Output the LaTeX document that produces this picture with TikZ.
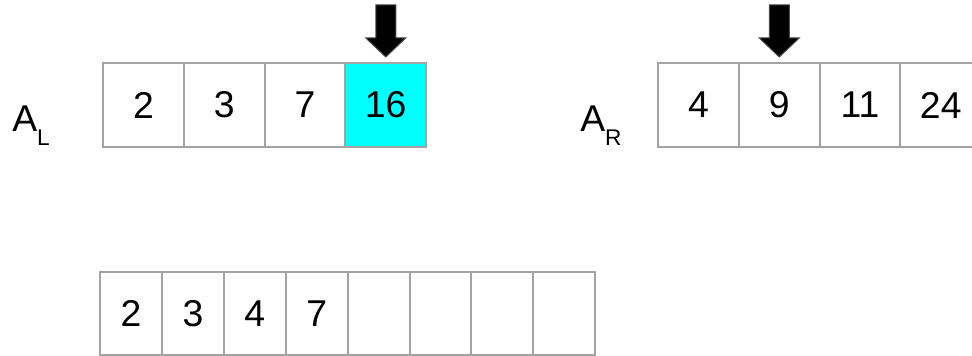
\documentclass[tikz,border=0pt]{standalone}
\usepackage{fontspec}
\setmainfont{Liberation Sans}

\definecolor{cellgray}{HTML}{A3A3A3}
\definecolor{hitcyan}{HTML}{00FFFF}

\tikzset{
  cell/.style={draw=cellgray, line width=1.5pt, inner sep=0pt,
    minimum width=60.56pt, minimum height=63pt,
    font=\fontsize{28}{30}\selectfont},
  outcell/.style={cell, minimum width=46.4pt, minimum height=62.25pt},
  hit/.style={fill=hitcyan},
  pointer/.style={fill=black, draw=black!70, line width=0.75pt},
  arrlabel/.style={anchor=base west, inner sep=0pt,
    font=\fontsize{28}{30}\selectfont},
}

% array name with a lowered subscript letter
\newcommand{\arrname}[1]{A\raisebox{-10pt}{\fontsize{17}{18}\selectfont #1}}

\begin{document}
\begin{tikzpicture}[x=0.75pt, y=-0.75pt]
    \clip (0,0) rectangle (972,356);

    % left half
    \node[arrlabel] (al) at (12,132) {\arrname{L}};
    \foreach \v [count=\i] in {2,3,7}
        \node[cell] (l\i) at (143.5+80.75*\i-80.75,105) {\v};
    \node[cell, hit] (l4) at (385.75,105) {16};

    % right half
    \node[arrlabel] (ar) at (580,132) {\arrname{R}};
    \foreach \v [count=\i] in {4,9,11,24}
        \node[cell] (r\i) at (698.5+80.75*\i-80.75,105) {\v};

    % merged output
    \foreach \v [count=\i] in {2,3,4,7,{},{},{},{}}
        \node[outcell] (m\i) at (131+61.9*\i-61.9,313.5) {\v};

    % current positions
    \begin{scope}[shift={(l4.north)}]
        \draw[pointer] (-10,-57) -- (10,-57) -- (10,-24) -- (20,-24)
            -- (0,-5) -- (-20,-24) -- (-10,-24) -- cycle;
    \end{scope}
    \begin{scope}[shift={(r2.north)}]
        \draw[pointer] (-10,-57) -- (10,-57) -- (10,-24) -- (20,-24)
            -- (0,-5) -- (-20,-24) -- (-10,-24) -- cycle;
    \end{scope}
\end{tikzpicture}
\end{document}
